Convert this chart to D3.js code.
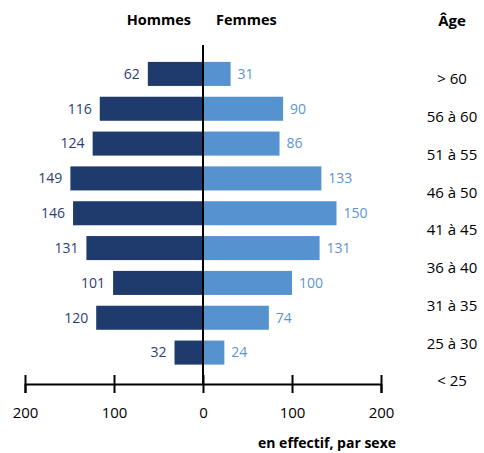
<!DOCTYPE html>
<html><head><meta charset="utf-8">
<script src="https://cdn.jsdelivr.net/npm/d3@7"></script>
<style>body{margin:0;background:#fff}svg{display:block;font-family:"Open Sans",sans-serif}</style>
</head><body><svg id="c" width="484" height="453"></svg>
<script>
const barAges = [">60","56-60","51-55","46-50","41-45","36-40","31-35","25-30","<25b"];
const hommes = [62,116,124,149,146,131,101,120,32];
const femmes = [31,90,86,133,150,131,100,74,24];
const ageLabels = ["> 60","56 à 60","51 à 55","46 à 50","41 à 45","36 à 40","31 à 35","25 à 30","< 25"];
const tickValues = [-200,-100,0,100,200];
const colH = "#1f3a6d", colF = "#5592ce";

const svg = d3.select("#c");
const x = d3.scaleLinear().domain([-200,200]).range([25,381]);
const y = d3.scaleBand().domain(barAges).range([56.5,370]).paddingInner(0.31).paddingOuter(0.155);
const yLab = d3.scalePoint().domain(ageLabels).range([79,381]);

// bars
svg.append("g").selectAll("rect").data(hommes).join("rect")
  .attr("x", d=>x(-d)).attr("width", d=>x(0)-x(-d))
  .attr("y", (d,i)=>y(barAges[i])).attr("height", y.bandwidth()).attr("fill", colH);
svg.append("g").selectAll("rect").data(femmes).join("rect")
  .attr("x", x(0)).attr("width", d=>x(d)-x(0))
  .attr("y", (d,i)=>y(barAges[i])).attr("height", y.bandwidth()).attr("fill", colF);

// value labels
svg.append("g").selectAll("text").data(hommes).join("text")
  .attr("x", d=>x(-d)-8).attr("y", (d,i)=>y(barAges[i])+y.bandwidth()/2)
  .attr("dy","0.35em").attr("text-anchor","end").attr("font-size",14).attr("fill","#2b3f73").text(d=>d);
svg.append("g").selectAll("text").data(femmes).join("text")
  .attr("x", d=>x(d)+7).attr("y", (d,i)=>y(barAges[i])+y.bandwidth()/2)
  .attr("dy","0.35em").attr("text-anchor","start").attr("font-size",14).attr("fill","#5b95d0").text(d=>d);

// center line
svg.append("line").attr("x1",x(0)).attr("x2",x(0)).attr("y1",45).attr("y2",384)
  .attr("stroke","#000").attr("stroke-width",2);

// axis
const ax = svg.append("g").attr("transform","translate(0,384)")
  .call(d3.axisBottom(x).tickValues(tickValues).tickFormat(d=>Math.abs(d)).tickSizeOuter(0).tickSize(9).tickPadding(14));
ax.select(".domain").attr("stroke","#000").attr("stroke-width",2);
ax.selectAll(".tick line").attr("stroke","#000").attr("stroke-width",2).attr("y1",-9);
ax.selectAll(".tick text").attr("font-size",15).attr("fill","#000").attr("font-family","'Open Sans',sans-serif");

// age labels
svg.append("g").selectAll("text").data(ageLabels).join("text")
  .attr("x",452).attr("y",d=>yLab(d)).attr("dy","0.35em").attr("text-anchor","middle")
  .attr("font-size",15).attr("fill","#000").text(d=>d);

// headers
svg.append("text").attr("x",191).attr("y",25).attr("text-anchor","end").attr("font-size",14.5).attr("font-weight","bold").text("Hommes");
svg.append("text").attr("x",216).attr("y",25).attr("text-anchor","start").attr("font-size",14.5).attr("font-weight","bold").text("Femmes");
svg.append("text").attr("x",452).attr("y",26).attr("text-anchor","middle").attr("font-size",15).attr("font-weight","bold").text("Âge");
svg.append("text").attr("x",396).attr("y",448).attr("text-anchor","end").attr("font-size",14).attr("font-weight","bold").text("en effectif, par sexe");
</script></body></html>
